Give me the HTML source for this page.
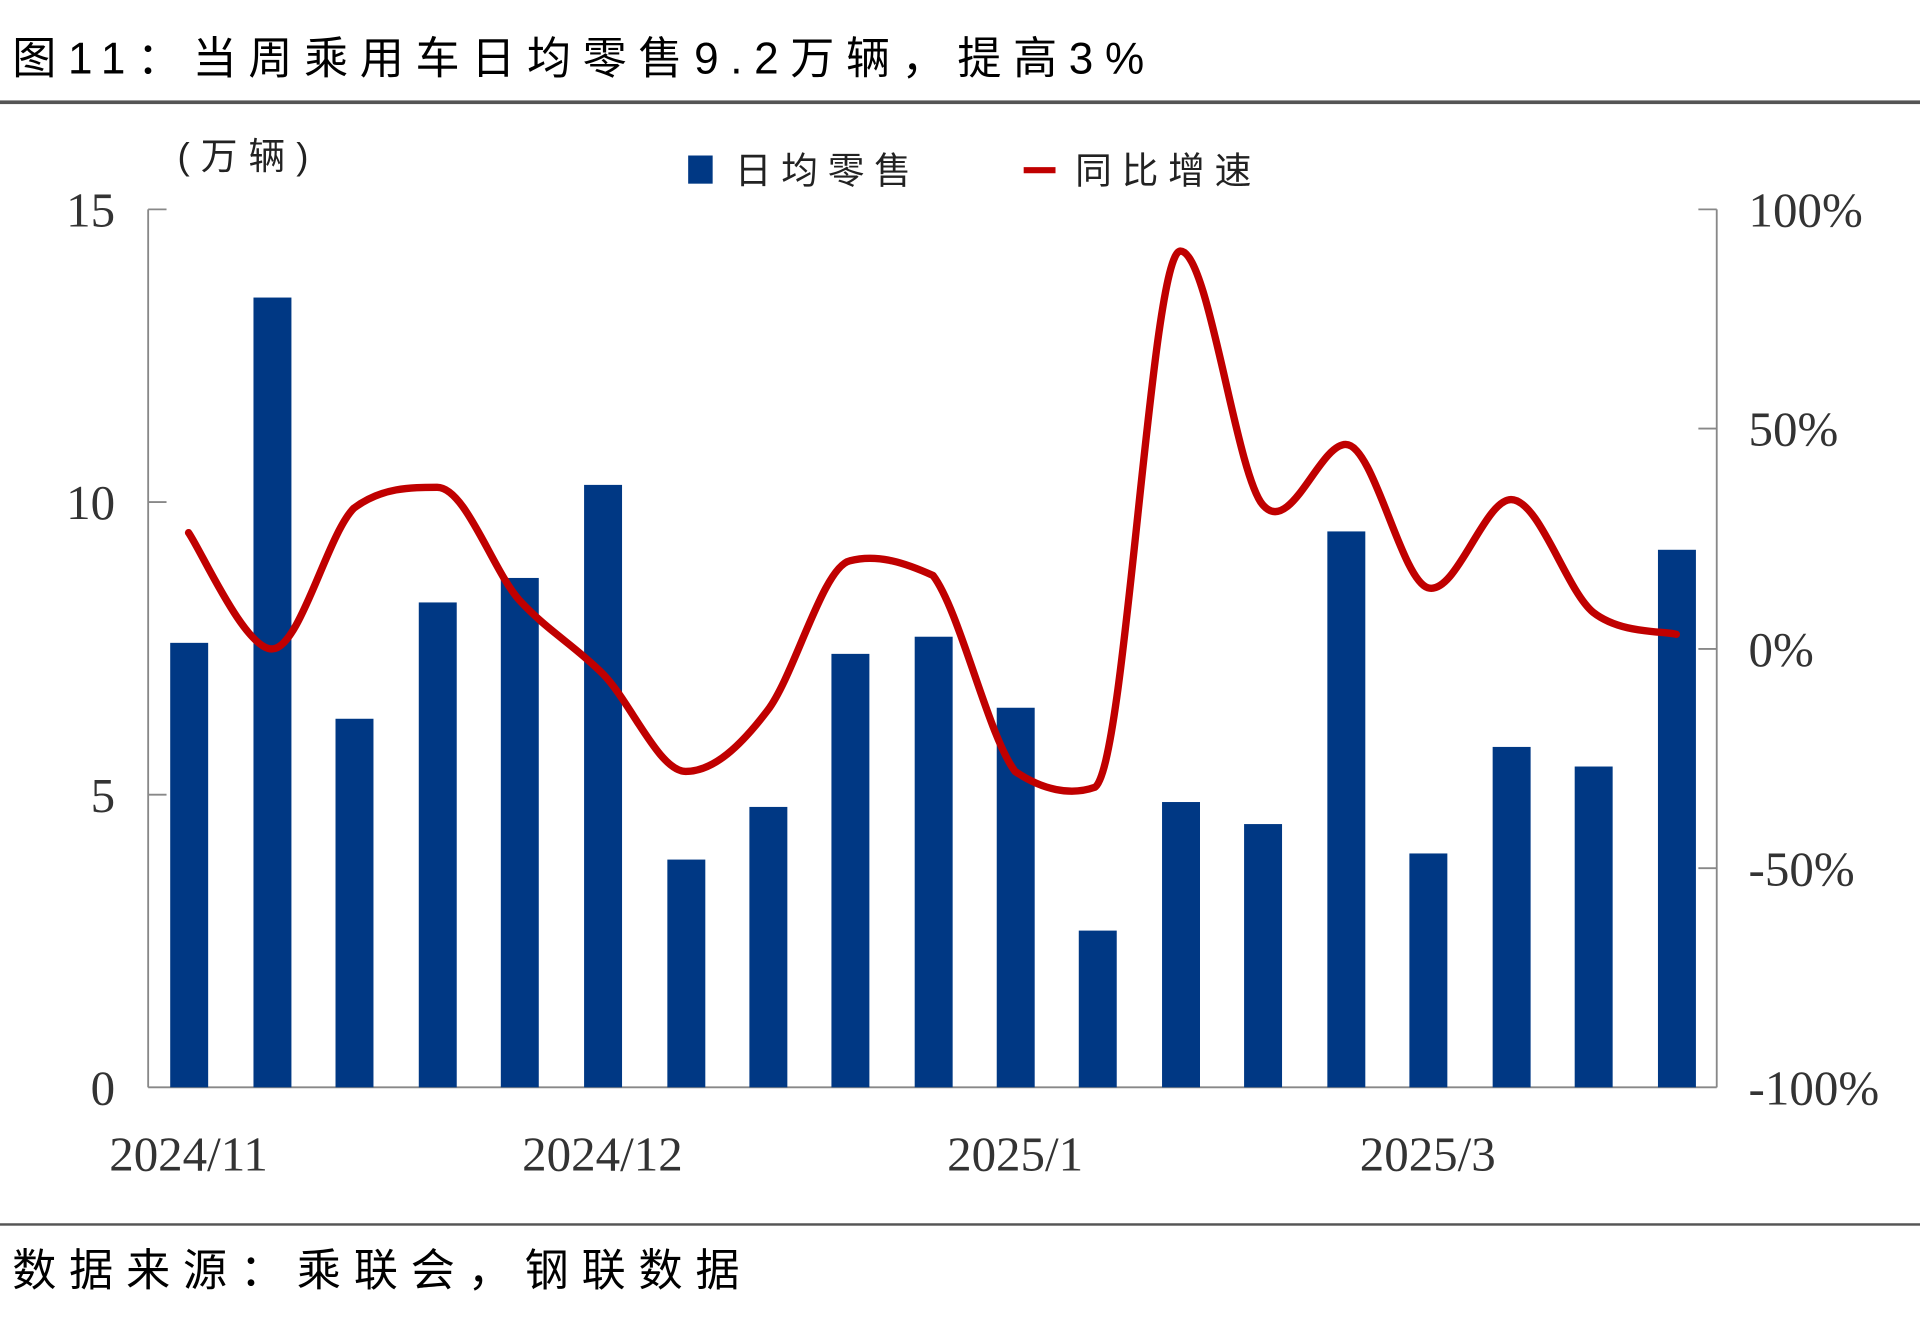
<!DOCTYPE html>
<html><head><meta charset="utf-8"><style>
html,body{margin:0;padding:0;background:#fff;}
svg{display:block;}
.cj{font-family:"Liberation Sans","Noto Sans CJK SC",sans-serif;}
.sf{font-family:"Liberation Serif","Noto Serif CJK SC",serif;}
</style></head><body>
<svg width="1920" height="1331" viewBox="0 0 1568 1087" preserveAspectRatio="none" xmlns="http://www.w3.org/2000/svg">
<rect width="1568" height="1087" fill="#fff"/>
<text x="10" y="60" class="cj" font-size="36" letter-spacing="9.5" fill="#000">图11：当周乘用车日均零售9.2万辆，提高3%</text>
<rect x="0" y="82" width="1568" height="3" fill="#555"/>
<text x="145" y="138" class="cj" font-size="30" letter-spacing="9" fill="#222">(万辆)</text>
<rect x="562" y="127" width="20" height="23" fill="#003884"/>
<text x="600" y="150" class="cj" font-size="30" letter-spacing="8" fill="#222">日均零售</text>
<line x1="836" y1="139" x2="862" y2="139" stroke="#C00000" stroke-width="5"/>
<text x="878" y="150" class="cj" font-size="30" letter-spacing="8" fill="#222">同比增速</text>
<g stroke="#888" stroke-width="1.5">
<line x1="121" y1="171" x2="121" y2="888"/>
<line x1="1402" y1="171" x2="1402" y2="888"/>
<line x1="121" y1="888" x2="1402" y2="888"/>
<line x1="121" y1="171" x2="136" y2="171"/><line x1="121" y1="410" x2="136" y2="410"/><line x1="121" y1="649" x2="136" y2="649"/>
<line x1="1387" y1="171" x2="1402" y2="171"/><line x1="1387" y1="350" x2="1402" y2="350"/><line x1="1387" y1="530" x2="1402" y2="530"/><line x1="1387" y1="709" x2="1402" y2="709"/>
</g>
<g class="sf" font-size="40" fill="#333" text-anchor="end">
<text x="94" y="185">15</text><text x="94" y="424">10</text><text x="94" y="663">5</text><text x="94" y="902">0</text>
</g>
<g class="sf" font-size="40" fill="#333">
<text x="1428" y="185">100%</text><text x="1428" y="364">50%</text><text x="1428" y="544">0%</text><text x="1428" y="723">-50%</text><text x="1428" y="902">-100%</text>
</g>
<g class="sf" font-size="40" fill="#333" text-anchor="middle">
<text x="154" y="956">2024/11</text><text x="492" y="956">2024/12</text><text x="829" y="956">2025/1</text><text x="1166" y="956">2025/3</text>
</g>
<g fill="#003884">
<rect x="139" y="525" width="31" height="363"/>
<rect x="207" y="243" width="31" height="645"/>
<rect x="274" y="587" width="31" height="301"/>
<rect x="342" y="492" width="31" height="396"/>
<rect x="409" y="472" width="31" height="416"/>
<rect x="477" y="396" width="31" height="492"/>
<rect x="545" y="702" width="31" height="186"/>
<rect x="612" y="659" width="31" height="229"/>
<rect x="679" y="534" width="31" height="354"/>
<rect x="747" y="520" width="31" height="368"/>
<rect x="814" y="578" width="31" height="310"/>
<rect x="881" y="760" width="31" height="128"/>
<rect x="949" y="655" width="31" height="233"/>
<rect x="1016" y="673" width="31" height="215"/>
<rect x="1084" y="434" width="31" height="454"/>
<rect x="1151" y="697" width="31" height="191"/>
<rect x="1219" y="610" width="31" height="278"/>
<rect x="1286" y="626" width="31" height="262"/>
<rect x="1354" y="449" width="31" height="439"/>
</g>
<path fill="none" stroke="#C00000" stroke-width="6" stroke-linejoin="round" stroke-linecap="round" d="M154,435 C165,451 200,530 222,530 C245,530 267,437 289,415 C312,398 335,398 357,398 C380,398 402,465 424,490 C447,515 469,527 492,550 C515,573 538,630 560,630 C583,630 605,609 627,580 C649,551 672,463 694,458 C717,452 740,460 762,470 C784,499 807,601 829,630 C851,645 874,650 894,643 C919,630 940,205 964,205 C987,205 1009,385 1031,412 C1054,439 1077,363 1099,363 C1122,363 1144,473 1166,480 C1189,487 1212,408 1234,408 C1257,408 1279,482 1301,500 C1324,518 1358,515 1369,518"/>
<rect x="0" y="999" width="1568" height="2" fill="#555"/>
<text x="10" y="1050" class="cj" font-size="36" letter-spacing="10.5" fill="#000">数据来源：乘联会，钢联数据</text>
</svg>
</body></html>
